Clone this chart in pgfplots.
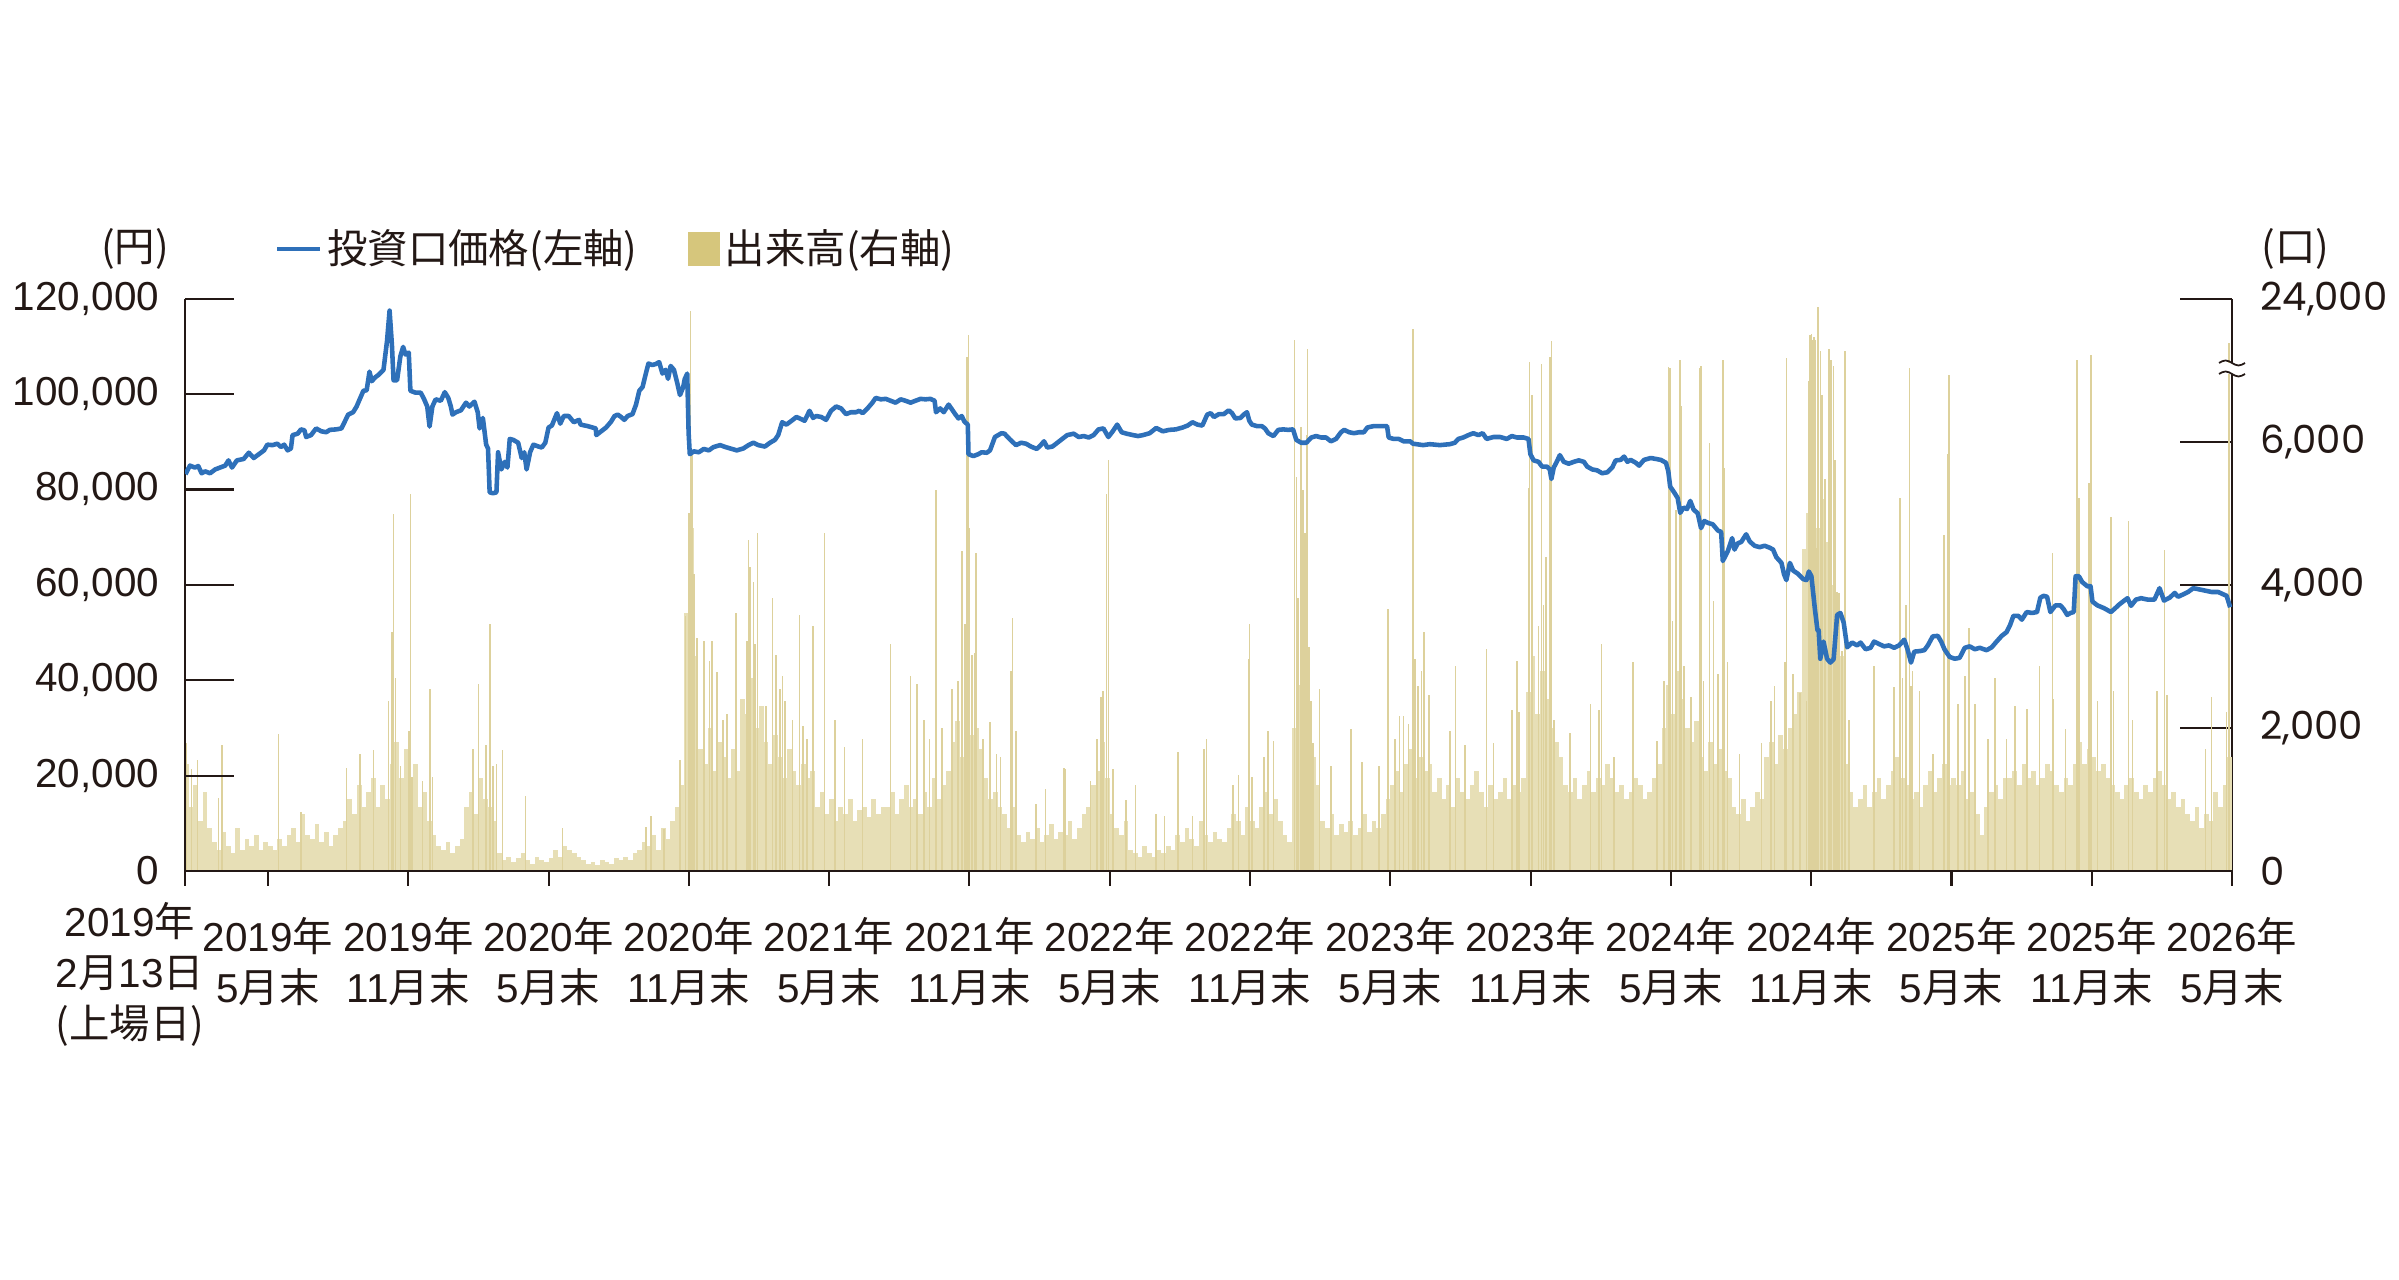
\documentclass[border=0pt]{standalone}
\usepackage{fontspec}
\setmainfont{Liberation Sans}
\newfontfamily\cjk{Noto Sans CJK JP}
\newfontfamily\rfont{Poppins}
\usepackage{pgfplots}
\pgfplotsset{compat=1.18}
\newcommand{\J}[1]{{\cjk #1}}
\newcommand{\lf}{\fontsize{11.5}{14.5}\selectfont}
\newcommand{\rf}{\rfont\fontsize{11}{13}\selectfont}
\definecolor{axcol}{HTML}{231815}
\definecolor{pricecol}{HTML}{2E70B9}
\definecolor{volcol}{HTML}{E7DFB6}
\definecolor{volcolb}{HTML}{DDD19C}
\definecolor{legvol}{HTML}{D6C67C}
\begin{document}
\begin{tikzpicture}
\useasboundingbox (0,0) rectangle (23.99,12.80);
\pgfplotsset{base/.style={at={(1.85cm,4.09cm)}, anchor=south west, scale only axis,
  width=20.47cm, height=5.7225cm, xmin=1.45, xmax=89,
  axis line style={line width=0.6pt, color=axcol, -},
  tick style={line width=0.6pt, color=axcol},
  tick label style={text=axcol}, scaled ticks=false}}
% volume (right axis)
\begin{axis}[base, name=vol, ymin=0, ymax=8000, axis x line=none, axis y line*=right,
  ytick={0,2000,4000,6000,8000}, yticklabels={0,{2,000},{4,000},{6,000},{24,000}},
  tick align=inside, major tick length=0.52cm,
  yticklabel style={font=\rf, anchor=west, xshift=0.16cm}]
\addplot[ycomb, line width=1.34pt, volcol, forget plot] coordinates {
(1.5,1500)(1.7,900)(1.9,1200)(2.1,700)(2.3,1100)(2.5,600)
(2.7,400)(2.9,300)(3.1,550)(3.3,350)(3.5,250)(3.7,600)(3.9,300)(4.1,450)(4.3,350)(4.5,500)(4.7,300)(4.9,400)(5.1,350)
(5.3,300)(5.5,450)(5.7,350)(5.9,500)(6.1,600)(6.3,400)(6.5,800)(6.7,500)(6.9,450)(7.1,650)(7.3,400)(7.5,550)(7.7,350)(7.9,500)(8.1,600)
(8.3,700)(8.5,1000)(8.7,800)(8.9,1200)(9.1,900)(9.3,1100)(9.5,1300)(9.7,900)(9.9,1200)(10.1,1000)
(10.3,1500)(10.5,1800)(10.7,1300)(10.9,1700)(11.1,1200)(11.3,1500)
(11.5,900)(11.7,1100)(11.9,700)(12.1,500)
(12.3,350)(12.5,300)(12.7,400)(12.9,250)(13.1,350)(13.3,450)
(13.5,900)(13.7,1100)(13.9,800)(14.1,1300)(14.3,1000)(14.5,900)(14.7,700)
(14.9,250)(15.1,150)(15.3,200)(15.5,120)(15.7,180)(15.9,250)(16.1,150)(16.3,100)(16.5,200)(16.7,150)(16.9,120)(17.1,180)(17.3,300)(17.5,200)(17.7,350)(17.9,300)(18.1,250)(18.3,200)
(18.5,150)(18.7,100)(18.9,120)(19.1,80)(19.3,150)(19.5,120)(19.7,100)(19.9,180)(20.1,150)(20.3,200)(20.5,150)(20.7,250)
(20.9,300)(21.1,400)(21.3,350)(21.5,500)(21.7,300)(21.9,600)(22.1,450)(22.3,700)
(22.5,900)(22.7,1200)(22.9,3600)(23.1,4800)(23.3,3000)
(23.5,1700)(23.7,1500)(23.9,2000)(24.1,1400)(24.3,1800)(24.5,1600)(24.7,1300)(24.9,1700)(25.1,1400)
(25.3,2400)(25.5,2200)(25.7,2700)(25.9,2000)(26.1,2300)
(26.3,1800)(26.5,1500)(26.7,1900)(26.9,1600)(27.1,1300)(27.3,1700)(27.5,1400)(27.7,1200)(27.9,1500)(28.1,1300)(28.3,1400)
(28.5,900)(28.7,1100)(28.9,800)(29.1,1000)(29.3,700)(29.5,900)(29.7,800)(29.9,1000)(30.1,700)(30.3,850)(30.5,900)(30.7,750)(30.9,1000)(31.1,800)(31.3,900)
(31.5,900)(31.7,1100)(31.9,800)(32.1,1000)(32.3,1200)(32.5,900)(32.7,1000)(32.9,800)(33.1,1100)(33.3,900)(33.5,1300)(33.7,1000)(33.9,1200)(34.1,1400)
(34.3,1800)(34.5,2100)(34.7,1600)(34.9,2300)(35.1,1900)(35.3,2000)(35.5,1700)
(35.7,1300)(35.9,1000)(36.1,1100)(36.3,900)(36.5,800)(36.7,600)(36.9,900)
(37.1,500)(37.3,400)(37.5,550)(37.7,450)(37.9,600)(38.1,400)(38.3,500)(38.5,650)(38.7,450)(38.9,550)(39.1,500)(39.3,700)(39.5,450)(39.7,600)(39.9,800)(40.1,900)(40.3,1200)
(40.5,1400)(40.7,1800)(40.9,1300)(41.1,800)(41.3,600)(41.5,500)(41.7,700)
(41.9,300)(42.1,250)(42.3,200)(42.5,350)(42.7,250)(42.9,200)(43.1,300)(43.3,250)(43.5,350)(43.7,300)
(43.9,500)(44.1,400)(44.3,600)(44.5,450)(44.7,350)(44.9,700)(45.1,500)(45.3,400)(45.5,550)(45.7,450)(45.9,400)
(46.1,600)(46.3,800)(46.5,700)(46.7,500)(46.9,900)(47.1,700)(47.3,600)
(47.5,900)(47.7,1100)(47.9,800)(48.1,1000)(48.3,700)(48.5,500)(48.7,400)
(48.9,2000)(49.1,2600)(49.3,2200)(49.5,1800)(49.7,1600)(49.9,1200)
(50.1,700)(50.3,600)(50.5,800)(50.7,500)(50.9,650)(51.1,550)(51.3,700)(51.5,500)(51.7,600)(51.9,800)(52.1,550)(52.3,700)(52.5,600)(52.7,800)(52.9,1000)
(53.1,1200)(53.3,1400)(53.5,1100)(53.7,1500)(53.9,1700)(54.1,1300)(54.3,1600)(54.5,1400)(54.7,1500)
(54.9,1100)(55.1,1300)(55.3,1000)(55.5,1200)(55.7,900)(55.9,1300)(56.1,1100)(56.3,1000)(56.5,1200)(56.7,1400)(56.9,1100)(57.1,900)(57.3,1200)(57.5,1000)(57.7,1100)(57.9,1300)(58.1,1000)(58.3,1200)(58.5,1100)(58.7,1300)
(58.9,2500)(59.1,3000)(59.3,2200)(59.5,2800)(59.7,2400)(59.9,2000)(60.1,1800)(60.3,1600)
(60.5,1200)(60.7,1100)(60.9,1300)(61.1,1000)(61.3,1200)(61.5,1400)(61.7,1100)(61.9,1300)(62.1,1200)(62.3,1500)(62.5,1300)(62.7,1100)(62.9,1200)(63.1,1000)(63.3,1100)(63.5,1300)(63.7,1200)(63.9,1000)(64.1,1100)(64.3,1300)(64.5,1500)
(64.7,2000)(64.9,2600)(65.1,2200)(65.3,2800)(65.5,2400)(65.7,2000)(65.9,1800)(66.1,2100)
(66.3,1600)(66.5,1400)(66.7,1800)(66.9,1500)(67.1,1700)(67.3,1400)(67.5,1300)
(67.7,900)(67.9,800)(68.1,1000)(68.3,700)(68.5,900)(68.7,1100)(68.9,1000)
(69.1,1600)(69.3,1800)(69.5,1500)(69.7,1900)(69.9,1700)(70.1,2000)(70.3,2200)(70.5,2500)
(70.7,4500)(70.9,5000)(71.1,4200)(71.3,4800)(71.5,5200)(71.7,4600)(71.9,4000)(72.1,3500)(72.3,3000)
(72.5,1500)(72.7,1100)(72.9,900)(73.1,1000)(73.3,1200)(73.5,900)(73.7,1100)(73.9,1300)(74.1,1000)(74.3,1200)(74.5,1400)(74.7,1600)(74.9,1300)
(75.1,1200)(75.3,1000)(75.5,1100)(75.7,900)(75.9,1200)(76.1,1400)(76.3,1100)(76.5,1300)(76.7,1500)(76.9,1200)(77.1,1300)
(77.3,1200)(77.5,1400)(77.7,1000)(77.9,1100)(78.1,800)(78.3,500)(78.5,900)(78.7,1100)(78.9,1200)(79.1,1000)(79.3,1300)
(79.5,1300)(79.7,1400)(79.9,1200)(80.1,1500)(80.3,1300)(80.5,1400)(80.7,1200)(80.9,1300)(81.1,1500)(81.3,1400)(81.5,1200)(81.7,1100)(81.9,1300)(82.1,1200)(82.3,1500)
(82.5,1800)(82.7,1500)(82.9,1700)(83.1,1600)(83.3,1400)(83.5,1500)(83.7,1300)
(83.9,1200)(84.1,1100)(84.3,1000)(84.5,1200)(84.7,1300)(84.9,1100)(85.1,1000)(85.3,1200)(85.5,1100)(85.7,1300)(85.9,1400)(86.1,1200)(86.3,1000)(86.5,1100)
(86.7,900)(86.9,1000)(87.1,800)(87.3,700)(87.5,900)(87.7,600)(87.9,800)(88.1,700)(88.3,1100)(88.5,900)(88.7,1200)(88.9,1600)
};
\addplot[ycomb, line width=0.45pt, volcolb, forget plot] coordinates {
(1.51,1790)(1.73,1420)(1.99,1550)(2.88,1016)(3.03,1765)(5.45,1910)(6.41,830)(8.36,1440)(8.93,1630)(9.51,1685)(10.16,2380)(10.30,3340)(10.37,4990)(10.45,2700)(10.66,1470)(11.02,1950)(11.09,5270)(11.17,1310)(11.60,1260)(11.93,2540)(12.03,1310)(13.76,1710)(14.00,2620)(14.33,1765)(14.49,3450)(14.62,1470)(14.77,1500)(15.03,1685)(16.02,1050)(17.60,600)
(21.16,615)(21.37,775)(21.94,590)(22.62,1550)(22.86,3560)(23.00,5000)(23.07,7835)(23.14,5860)(23.21,4145)(23.35,3260)(23.64,3210)(23.89,2940)(23.99,3210)(24.20,2780)(24.46,2110)(24.63,2190)(25.02,3610)(25.48,3210)(25.55,4630)(25.62,4250)(25.76,4040)(25.83,3180)(25.93,4730)(26.30,2300)(26.58,3820)(26.72,3020)(26.89,2540)(27.00,2730)(27.10,2380)(27.43,2110)(27.74,3580)(27.88,2030)(28.05,1850)(28.31,3420)(28.80,4730)(29.25,2110)(29.65,1740)(30.43,1850)(31.63,3180)(32.48,2730)(32.76,2620)(33.05,2110)(33.30,1850)(33.58,5320)(33.82,2000)(34.25,2540)(34.50,2650)(34.67,4470)(34.82,3450)(34.89,7190)(34.96,7490)(35.00,4790)(35.10,3020)(35.21,3050)(35.28,4440)(35.59,1850)(35.88,2085)(36.16,1630)
(36.33,1600)(36.78,2800)(36.85,3530)(36.99,1950)(37.84,935)(38.26,1150)(39.04,1440)(39.11,1420)(40.17,1260)(40.45,1850)(40.62,2430)(40.70,2510)(40.87,5270)(40.94,5750)(41.13,1420)(41.69,990)(42.11,1200)(42.99,800)(43.34,775)(43.93,1660)(44.54,775)(45.03,1710)(45.13,1850)(46.26,1200)(46.51,1340)(46.94,2970)(46.98,3450)(47.08,1310)(47.61,1600)(47.76,1950)(48.00,1820)(48.91,7430)(48.98,5510)(49.05,3820)(49.19,6200)(49.27,5320)(49.34,4730)(49.41,6100)(49.45,7300)(49.52,3130)(49.62,2380)(49.69,1790)(49.97,2540)(50.46,1470)(51.31,1980)(51.80,1520)(52.51,1470)(52.90,3660)(52.93,2220)(53.21,1850)(53.57,2165)(53.78,2060)
(53.40,2165)(53.97,7570)(54.05,2970)(54.19,2590)(54.33,2800)(54.45,3340)(54.66,2460)(55.55,1950)(55.79,2860)(56.19,1765)(57.12,3100)(57.41,1790)(58.20,2250)(58.41,2940)(58.51,2220)(58.91,5350)(58.96,7110)(59.06,6660)(59.34,3420)(59.46,7090)(59.56,3720)(59.66,4390)(59.84,7190)(59.89,7410)(59.99,2110)(60.68,1925)(61.56,2330)(61.92,2250)(62.04,3180)(62.57,1600)(63.37,2915)(64.40,1820)(64.71,2650)(64.89,7040)(64.97,7030)(65.07,3500)(65.22,5050)(65.40,7140)(65.43,6500)(65.57,2860)(65.86,2430)(66.22,7030)(66.29,7060)(66.40,2650)(66.65,5990)(66.83,3770)(67.01,2750)(67.22,7140)(67.29,5640)(67.43,2915)(67.94,1630)(68.87,1790)(69.27,2380)(69.44,2590)(69.87,2915)(69.94,7170)(70.23,2750)(70.51,2490)(70.80,2380)(71.01,7510)(71.13,7460)(71.23,4520)
(70.89,6850)(70.96,7490)(71.06,7430)(71.17,7420)(71.29,7890)(71.39,7270)(71.46,6660)(71.60,5480)(71.75,7300)(71.86,7140)(71.95,7060)(72.03,5750)(72.11,3900)(72.18,3880)(72.32,3080)(72.44,7270)(72.61,2110)(73.69,2860)(74.55,2570)(74.81,5210)(74.91,2700)(75.05,3720)(75.20,7030)(75.27,2590)(75.34,2800)(75.63,2510)(76.20,1630)(76.68,4700)(76.85,5830)(76.89,6930)(77.28,2330)(77.57,2730)(77.74,3400)(78.00,2330)(78.57,1850)(78.86,2700)(79.36,1850)(79.72,2300)(80.22,2270)(80.76,2860)(81.33,4440)(81.37,2410)(81.88,1980)(82.35,2915)(82.38,7140)(82.45,5210)(82.88,5430)(82.98,7220)(83.24,2380)(83.82,4950)(83.93,2510)(84.58,4890)(84.75,2110)(85.80,2510)(86.11,4490)(86.23,2460)(87.87,1710)(88.13,2430)(88.77,2220)(88.87,7380)
};
\end{axis}
% price (left axis)
\begin{axis}[base, ymin=0, ymax=120000, axis x line=none, axis y line*=left,
  ytick={0,20000,40000,60000,80000,100000,120000},
  yticklabels={0,{20,000},{40,000},{60,000},{80,000},{100,000},{120,000}},
  tick align=inside, major tick length=0.49cm,
  yticklabel style={font=\lf, anchor=east, xshift=-0.136cm},
  legend columns=2,
  legend style={at={(0.0435,1.087)}, anchor=west, draw=none, fill=none, inner sep=0pt,
    font=\lf, text=axcol, nodes={inner xsep=0.05cm, inner ysep=0pt},
    /tikz/every even column/.append style={column sep=0.45cm}}]
\addplot[pricecol, line width=1.3pt, line join=round,
  legend image code/.code={\draw[pricecol, line width=1.3pt] (0cm,0cm) -- (0.43cm,0cm);}]
coordinates {
(1.47,83200)(1.66,85000)(1.87,84600)(2.02,84900)(2.16,83400)(2.31,83800)(2.52,83400)(2.74,84200)(2.95,84600)(3.17,85000)(3.31,86100)(3.46,84600)(3.67,86100)(3.96,86400)(4.18,87700)(4.39,86600)(4.61,87400)(4.83,88200)(4.97,89400)(5.19,89300)(5.40,89600)(5.55,88900)(5.69,89400)(5.84,88200)(5.98,88600)(6.05,91400)(6.27,91700)(6.41,92600)(6.56,92400)(6.63,91000)(6.84,91400)(7.06,92800)(7.28,92200)(7.49,92000)(7.64,92500)(7.92,92600)(8.14,92800)(8.28,94200)(8.43,95700)(8.64,96200)(8.79,97400)(8.93,99000)(9.08,100700)(9.22,100800)(9.34,104700)(9.44,102700)(9.58,103500)(9.72,104000)(9.94,105100)(10.09,111100)(10.20,117500)(10.30,110300)(10.37,102900)(10.52,102900)(10.66,107900)(10.78,109900)(10.88,108300)(11.02,108700)(11.09,100700)(11.31,100300)(11.53,100300)(11.67,99000)(11.81,97400)(11.91,93200)(12.03,97400)(12.17,98900)(12.39,98600)(12.56,100400)(12.71,99200)(12.82,97400)(12.89,95700)(13.04,96200)(13.25,96600)(13.47,98200)(13.61,97400)(13.83,98400)(13.97,96200)(14.05,92800)(14.19,95000)(14.33,89400)(14.41,88600)(14.48,79400)(14.62,79200)(14.77,79400)(14.84,87800)(14.98,84200)(15.13,85800)(15.24,84600)(15.34,90600)(15.49,90400)(15.70,89800)(15.85,86600)(15.96,87800)(16.06,84200)(16.21,87800)(16.35,89400)(16.57,89000)(16.71,88800)(16.86,89800)(17.00,93000)(17.14,93400)(17.36,96000)(17.50,93800)(17.65,95400)(17.86,95400)(18.08,94100)(18.30,94600)(18.37,93600)(18.66,93300)(19.02,92800)
(19.04,91400)(19.25,92200)(19.46,93000)(19.67,94200)(19.82,95400)(19.96,95700)(20.10,95200)(20.24,94600)(20.38,95400)(20.59,95800)(20.74,97800)(20.88,100700)(21.02,101500)(21.16,104300)(21.27,106400)(21.44,106100)(21.58,106300)(21.73,106700)(21.87,104300)(22.01,105100)(22.11,103200)(22.22,105900)(22.36,105100)(22.50,102400)(22.62,99800)(22.76,101500)(22.82,103100)(22.93,104300)(22.99,91800)(23.04,87400)(23.21,88000)(23.42,87800)(23.64,88500)(23.85,88200)(24.06,88900)(24.34,89300)(24.56,88900)(24.77,88600)(25.05,88200)(25.33,88600)(25.55,89300)(25.76,89800)(25.97,89300)(26.25,89000)(26.47,89800)(26.68,90400)(26.82,91400)(26.99,94100)(27.17,93600)(27.39,94400)(27.60,95200)(27.74,94900)(27.95,94400)(28.16,96500)(28.31,95000)(28.45,95400)(28.66,95200)(28.87,94600)(29.08,96500)(29.30,97400)(29.51,97000)(29.72,95800)(29.93,96200)(30.15,96200)(30.29,96500)(30.43,96000)(30.64,97000)(30.85,98200)(30.99,99200)(31.21,98900)(31.42,99000)(31.63,98600)(31.84,98200)(32.06,98900)(32.27,98600)(32.48,98200)(32.69,98600)(32.91,99000)(33.12,98900)(33.33,99000)(33.51,98600)(33.57,96200)(33.75,97000)(33.90,96200)(34.11,97800)(34.28,96600)(34.39,95800)(34.53,94900)(34.67,95400)(34.79,94200)(34.93,93600)(34.96,87400)(35.17,87000)(35.38,87400)(35.52,87800)(35.74,87700)(35.88,88200)(36.09,91000)(36.37,91800)
(36.50,91700)(36.71,90600)(36.99,89300)(37.21,89800)(37.42,89600)(37.63,89000)(37.88,88500)(38.05,89300)(38.19,90100)(38.33,88800)(38.55,89000)(38.76,89800)(38.97,90600)(39.18,91400)(39.46,91700)(39.67,91000)(39.89,91200)(40.10,90900)(40.31,91400)(40.52,92600)(40.73,92800)(40.94,91000)(41.13,92200)(41.32,93600)(41.51,92000)(41.72,91700)(42.00,91400)(42.21,91200)(42.42,91400)(42.71,91800)(42.99,92900)(43.27,92200)(43.55,92500)(43.83,92600)(44.12,93000)(44.33,93400)(44.54,94100)(44.75,93600)(44.96,93400)(45.17,95700)(45.32,96000)(45.46,95200)(45.67,95800)(45.88,95800)(46.09,96600)(46.23,96000)(46.37,94900)(46.59,95000)(46.73,95700)(46.87,96200)(46.97,94400)(47.08,93600)(47.29,93300)(47.50,93300)(47.64,92800)(47.78,91800)(48.00,91200)(48.21,92500)(48.42,92600)(48.63,92500)(48.84,92600)(48.98,90400)(49.19,89800)(49.41,89800)(49.62,90900)(49.83,91200)(50.04,90900)(50.25,90900)(50.46,90100)(50.68,90600)(50.89,92000)(51.03,92500)(51.24,92000)(51.45,91800)(51.66,92000)(51.87,92000)(52.02,93000)(52.30,93300)(52.58,93300)(52.86,93300)(52.93,90900)(53.14,90600)(53.36,90600)(53.57,90100)(53.85,90100)
(53.97,89600)(54.40,89300)(54.69,89500)(55.12,89300)(55.55,89500)(55.76,89800)(55.91,90600)(56.12,90900)(56.34,91400)(56.55,91800)(56.77,91400)(56.95,91800)(57.12,90600)(57.41,91000)(57.70,91000)(57.98,90600)(58.20,91200)(58.41,90900)(58.70,90900)(58.91,90600)(58.99,87400)(59.13,86100)(59.34,85800)(59.49,84800)(59.70,84800)(59.82,84200)(59.89,82200)(59.99,84600)(60.10,85600)(60.25,87200)(60.42,85800)(60.63,85400)(60.85,85800)(61.06,86100)(61.28,85800)(61.42,84800)(61.64,84200)(61.85,84000)(62.06,83400)(62.28,83600)(62.49,84600)(62.64,86100)(62.85,86200)(63.00,86900)(63.14,85800)(63.28,86200)(63.50,85600)(63.64,85000)(63.85,86200)(64.14,86600)(64.36,86400)(64.57,86200)(64.79,85600)(64.89,83800)(64.97,80600)(65.14,79400)(65.29,78200)(65.40,75100)(65.54,76200)(65.69,75900)(65.83,77600)(65.97,75800)(66.15,75000)(66.29,71900)(66.43,73400)(66.58,73000)(66.79,72700)(67.01,71400)(67.15,71100)(67.22,65000)(67.43,67000)(67.62,69800)(67.72,67400)(67.86,68700)(68.01,69000)(68.22,70600)(68.37,69100)(68.58,68200)(68.80,67900)(69.01,68200)(69.22,67800)(69.37,67400)(69.51,65800)(69.73,64600)(69.84,62200)(69.94,61000)(70.09,64600)(70.23,63000)(70.44,62300)(70.66,61200)(70.80,61000)(70.90,62800)(71.01,61800)(71.16,54900)(71.27,50500)
(71.32,50500)(71.39,44500)(71.53,48100)(71.68,44500)(71.82,43700)(71.96,44400)(72.11,53700)(72.25,54100)(72.39,52100)(72.54,46900)(72.75,47900)(72.97,47300)(73.11,47900)(73.33,46500)(73.54,46800)(73.69,48100)(73.90,47600)(74.12,47100)(74.33,47300)(74.55,46800)(74.76,47300)(74.98,48500)(75.12,46500)(75.27,43700)(75.41,46000)(75.63,46100)(75.84,46300)(75.99,47300)(76.20,49200)(76.42,49300)(76.56,48100)(76.70,46500)(76.92,44900)(77.14,44500)(77.35,44700)(77.57,46800)(77.78,47100)(78.00,46500)(78.21,46800)(78.50,46300)(78.72,46900)(78.93,48100)(79.15,49300)(79.36,50100)(79.51,51600)(79.65,53500)(79.86,53500)(80.01,52700)(80.22,54300)(80.44,54100)(80.66,54300)(80.80,57300)(80.94,57700)(81.09,57500)(81.23,54300)(81.45,55700)(81.66,55700)(81.80,54900)(81.95,53700)(82.09,54100)(82.23,54300)(82.31,61800)(82.45,61800)(82.59,60600)(82.81,59700)(82.95,59700)(83.03,56500)(83.24,55700)(83.53,55100)(83.82,54300)(83.96,54900)(84.18,55900)(84.39,56700)(84.53,57200)(84.68,55600)(84.89,56900)(85.11,57200)(85.40,56900)(85.68,56900)(85.90,59300)(86.09,56700)(86.33,57300)(86.55,58300)(86.69,57500)(86.91,58000)(87.12,58500)(87.34,59300)(87.55,59100)(87.84,58800)(88.13,58500)(88.41,58500)(88.63,58000)(88.77,57700)(88.92,55300)
};
\addlegendentry{\J{投資口価格(左軸)}}
\addlegendimage{legend image code/.code={\fill[legvol] (0cm,-0.16cm) rectangle (0.31cm,0.16cm);}}
\addlegendentry{\J{出来高(右軸)}}
\end{axis}
% x axis
\begin{axis}[base, ymin=0, ymax=1, axis y line=none, axis x line*=bottom, clip=false,
  xtick={1.45,5,11,17,23,29,35,41,47,53,59,65,71,77,83,89},
  xticklabels={{},{2019\J{年}\\5\J{月末}},{2019\J{年}\\11\J{月末}},{2020\J{年}\\5\J{月末}},{2020\J{年}\\11\J{月末}},{2021\J{年}\\5\J{月末}},{2021\J{年}\\11\J{月末}},{2022\J{年}\\5\J{月末}},{2022\J{年}\\11\J{月末}},{2023\J{年}\\5\J{月末}},{2023\J{年}\\11\J{月末}},{2024\J{年}\\5\J{月末}},{2024\J{年}\\11\J{月末}},{2025\J{年}\\5\J{月末}},{2025\J{年}\\11\J{月末}},{2026\J{年}\\5\J{月末}}},
  tick align=outside, major tick length=0.15cm,
  xticklabel style={font=\lf, align=center, anchor=north, yshift=-0.19cm}]
\node[font=\lf, align=center, anchor=north, text=axcol, xshift=-0.55cm, yshift=-0.19cm]
  at (rel axis cs:0,0) {2019\J{年}\\2\J{月}13\J{日}\\\J{(上場日)}};
\end{axis}
% axis break on the right axis
\fill[white] (22.17,9.06) rectangle (22.47,9.17);
\draw[axcol, line width=0.5pt] (22.19,9.17) sin (22.255,9.195) cos (22.32,9.17) sin (22.385,9.145) cos (22.45,9.17);
\draw[axcol, line width=0.5pt] (22.19,9.06) sin (22.255,9.085) cos (22.32,9.06) sin (22.385,9.035) cos (22.45,9.06);
\node[font=\lf, text=axcol] at (1.35,10.31) {\J{(円)}};
\node[font=\lf, text=axcol, anchor=west, inner sep=0pt] at (22.61,10.31) {\J{(口)}};
\end{tikzpicture}
\end{document}
